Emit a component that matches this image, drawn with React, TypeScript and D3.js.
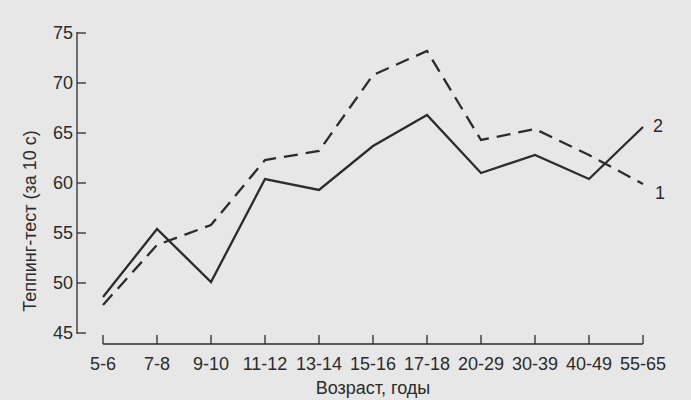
import React from "react";
import * as d3 from "d3";

const categories = ["5-6", "7-8", "9-10", "11-12", "13-14", "15-16", "17-18", "20-29", "30-39", "40-49", "55-65"];
const series2 = [48.6, 55.4, 50.1, 60.4, 59.3, 63.7, 66.8, 61.0, 62.8, 60.4, 65.6];
const series1 = [47.8, 53.8, 55.8, 62.3, 63.2, 70.8, 73.2, 64.3, 65.4, 62.8, 59.9];
const yTicks = [45, 50, 55, 60, 65, 70, 75];
const yTitle = "Теппинг-тест (за 10 с)";
const xTitle = "Возраст, годы";

const W = 691;
const H = 400;
const INK = "#2b2b2b";
const FONT = "'Liberation Sans', Arial, sans-serif";
const FS = 18;

export default function App() {
  const x = d3.scalePoint<string>().domain(categories).range([103, 643]);
  const y = d3.scaleLinear().domain([45, 75]).range([333, 33]);
  const line = d3
    .line<number>()
    .x((_, i) => x(categories[i]) as number)
    .y((d) => y(d));
  const axisX = 77;
  const baseY = 344;
  const last = categories.length - 1;

  return (
    <svg
      width={W}
      height={H}
      style={{ position: "absolute", left: 0, top: 0, background: "#e7e7e7" }}
      fontFamily={FONT}
    >
      <rect x={0} y={0} width={W} height={H} fill="#e7e7e7" />
      {/* Y axis */}
      <line x1={axisX} x2={axisX} y1={y(75) - 1} y2={y(45) + 1} stroke={INK} strokeWidth={1.3} />
      {yTicks.map((t) => (
        <g key={t}>
          <line x1={axisX} x2={axisX + 9} y1={y(t)} y2={y(t)} stroke={INK} strokeWidth={1.3} />
          <text x={axisX - 4} y={y(t)} dy="0.36em" textAnchor="end" fontSize={FS} fill={INK}>
            {t}
          </text>
        </g>
      ))}
      <text
        transform={`translate(36, 221) rotate(-90)`}
        textAnchor="middle"
        fontSize={FS}
        fill={INK}
      >
        {yTitle}
      </text>
      {/* X axis */}
      <line x1={x(categories[0])} x2={x(categories[last])} y1={baseY} y2={baseY} stroke={INK} strokeWidth={1.3} />
      {categories.map((c) => (
        <g key={c}>
          <line x1={x(c)} x2={x(c)} y1={baseY} y2={baseY - 9} stroke={INK} strokeWidth={1.3} />
          <text x={x(c)} y={370} textAnchor="middle" fontSize={FS} fill={INK}>
            {c}
          </text>
        </g>
      ))}
      <text x={(x(categories[0])! + x(categories[last])!) / 2} y={394} textAnchor="middle" fontSize={FS} fill={INK}>
        {xTitle}
      </text>
      {/* Lines */}
      <path d={line(series2) || ""} fill="none" stroke={INK} strokeWidth={2.3} strokeLinejoin="miter" />
      <path d={line(series1) || ""} fill="none" stroke={INK} strokeWidth={2.3} strokeDasharray="14,8" />
      <text x={(x(categories[last]) as number) + 10} y={y(series2[last]) + 5} fontSize={FS} fill={INK}>
        2
      </text>
      <text x={(x(categories[last]) as number) + 12} y={y(series1[last]) + 15} fontSize={FS} fill={INK}>
        1
      </text>
    </svg>
  );
}
